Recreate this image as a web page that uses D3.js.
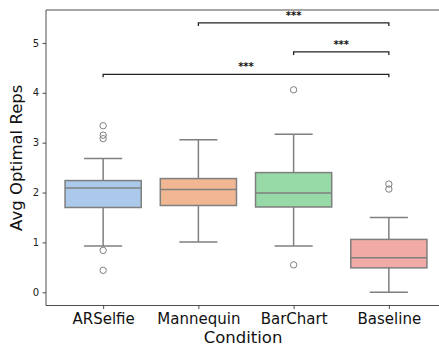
<!DOCTYPE html>
<html>
<head>
<meta charset="utf-8">
<script src="https://cdn.jsdelivr.net/npm/d3@7"></script>
<style>
  body { margin: 0; background: #fff; }
  text { font-family: "DejaVu Sans", sans-serif; }
</style>
</head>
<body>
<div id="chart"></div>
<script>
const conditions = ['ARSelfie', 'Mannequin', 'BarChart', 'Baseline'];
const q1 = [1.70, 1.74, 1.71, 0.49];
const medians = [2.09, 2.06, 1.99, 0.69];
const q3 = [2.24, 2.28, 2.40, 1.06];
const whiskerLow = [0.93, 1.01, 0.93, 0.0];
const whiskerHigh = [2.68, 3.06, 3.17, 1.50];
const outliers = [[0.84, 0.44, 3.34, 3.15, 3.08], [], [0.55, 4.06], [2.17, 2.07]];
const colors = ['#abc9ea', '#f0b792', '#98daa7', '#f2aaa7'];
const yTicks = [0, 1, 2, 3, 4, 5];
// significance brackets: [from, to, level]
const brackets = [
  ['Mannequin', 'Baseline', 5.40, '***'],
  ['BarChart', 'Baseline', 4.82, '***'],
  ['ARSelfie', 'Baseline', 4.37, '***']
];

const W = 439, H = 347;
const plot = {l: 46, r: 446, t: 10, b: 305.5};

const svg = d3.select('#chart').append('svg').attr('width', W).attr('height', H);

const x = d3.scalePoint().domain(conditions).range([plot.l, plot.r]).padding(0.6);
const y = d3.scaleLinear().domain([-0.265, 5.66]).range([plot.b, plot.t]);
const step = x.step();
const boxW = step * 0.8;
const capW = boxW / 2;
const lineColor = '#7f7f7f';

// axes
svg.append('g').attr('transform', `translate(${plot.l},0)`)
  .call(d3.axisLeft(y).tickValues(yTicks).tickFormat(d3.format('d')).tickSize(3.5).tickPadding(3.5))
  .call(g => g.select('.domain').remove())
  .call(g => g.selectAll('.tick line').attr('stroke', '#222').attr('stroke-width', 0.8))
  .call(g => g.selectAll('.tick text').attr('font-size', 10).attr('fill', '#222').style('font-family', 'DejaVu Sans'));

svg.append('g').attr('transform', `translate(0,${plot.b})`)
  .call(d3.axisBottom(x).tickSize(3.5).tickPadding(4))
  .call(g => g.select('.domain').remove())
  .call(g => g.selectAll('.tick line').attr('stroke', '#222').attr('stroke-width', 0.8))
  .call(g => g.selectAll('.tick text').attr('font-size', 15).attr('fill', '#111').style('font-family', 'DejaVu Sans'));

// spines
svg.append('line').attr('x1', plot.l).attr('x2', plot.l).attr('y1', plot.t).attr('y2', plot.b)
  .attr('stroke', '#222').attr('stroke-width', 0.8);
svg.append('line').attr('x1', plot.l).attr('x2', plot.r).attr('y1', plot.b).attr('y2', plot.b)
  .attr('stroke', '#222').attr('stroke-width', 0.8);
svg.append('line').attr('x1', plot.l).attr('x2', plot.r).attr('y1', plot.t).attr('y2', plot.t)
  .attr('stroke', '#222').attr('stroke-width', 0.8);

// boxes
const boxes = svg.append('g').selectAll('g').data(conditions).join('g')
  .attr('transform', d => `translate(${x(d)},0)`);

boxes.append('line').attr('x1', 0).attr('x2', 0)
  .attr('y1', (d, i) => y(whiskerLow[i])).attr('y2', (d, i) => y(q1[i]))
  .attr('stroke', lineColor).attr('stroke-width', 1.5);
boxes.append('line').attr('x1', 0).attr('x2', 0)
  .attr('y1', (d, i) => y(q3[i])).attr('y2', (d, i) => y(whiskerHigh[i]))
  .attr('stroke', lineColor).attr('stroke-width', 1.5);
boxes.append('line').attr('x1', -capW / 2).attr('x2', capW / 2)
  .attr('y1', (d, i) => y(whiskerLow[i])).attr('y2', (d, i) => y(whiskerLow[i]))
  .attr('stroke', lineColor).attr('stroke-width', 1.5);
boxes.append('line').attr('x1', -capW / 2).attr('x2', capW / 2)
  .attr('y1', (d, i) => y(whiskerHigh[i])).attr('y2', (d, i) => y(whiskerHigh[i]))
  .attr('stroke', lineColor).attr('stroke-width', 1.5);
boxes.append('rect').attr('x', -boxW / 2).attr('width', boxW)
  .attr('y', (d, i) => y(q3[i])).attr('height', (d, i) => y(q1[i]) - y(q3[i]))
  .attr('fill', (d, i) => colors[i]).attr('stroke', lineColor).attr('stroke-width', 1.5);
boxes.append('line').attr('x1', -boxW / 2).attr('x2', boxW / 2)
  .attr('y1', (d, i) => y(medians[i])).attr('y2', (d, i) => y(medians[i]))
  .attr('stroke', lineColor).attr('stroke-width', 1.5);
boxes.each(function(d, i) {
  d3.select(this).selectAll('circle').data(outliers[i]).join('circle')
    .attr('cx', 0).attr('cy', v => y(v)).attr('r', 3.2)
    .attr('fill', 'none').attr('stroke', lineColor).attr('stroke-width', 1);
});

// brackets
const bg = svg.append('g');
brackets.forEach(([a, b, lvl, label]) => {
  const x1 = x(a), x2 = x(b), yy = y(lvl);
  bg.append('path')
    .attr('d', `M${x1},${yy + 3}V${yy}H${x2}V${yy + 3}`)
    .attr('fill', 'none').attr('stroke', '#222').attr('stroke-width', 1.3);
  bg.append('text').attr('x', (x1 + x2) / 2).attr('y', yy - 4)
    .attr('text-anchor', 'middle').attr('font-size', 10).attr('font-weight', 'bold')
    .attr('fill', '#111').text(label);
});

// axis labels
svg.append('text').attr('x', (plot.l + plot.r) / 2 - 3).attr('y', 343)
  .attr('text-anchor', 'middle').attr('font-size', 16.5).attr('fill', '#111').text('Condition');
svg.append('text').attr('transform', `translate(22,${(plot.t + plot.b) / 2}) rotate(-90)`)
  .attr('text-anchor', 'middle').attr('font-size', 16.5).attr('fill', '#111').text('Avg Optimal Reps');
</script>
</body>
</html>
